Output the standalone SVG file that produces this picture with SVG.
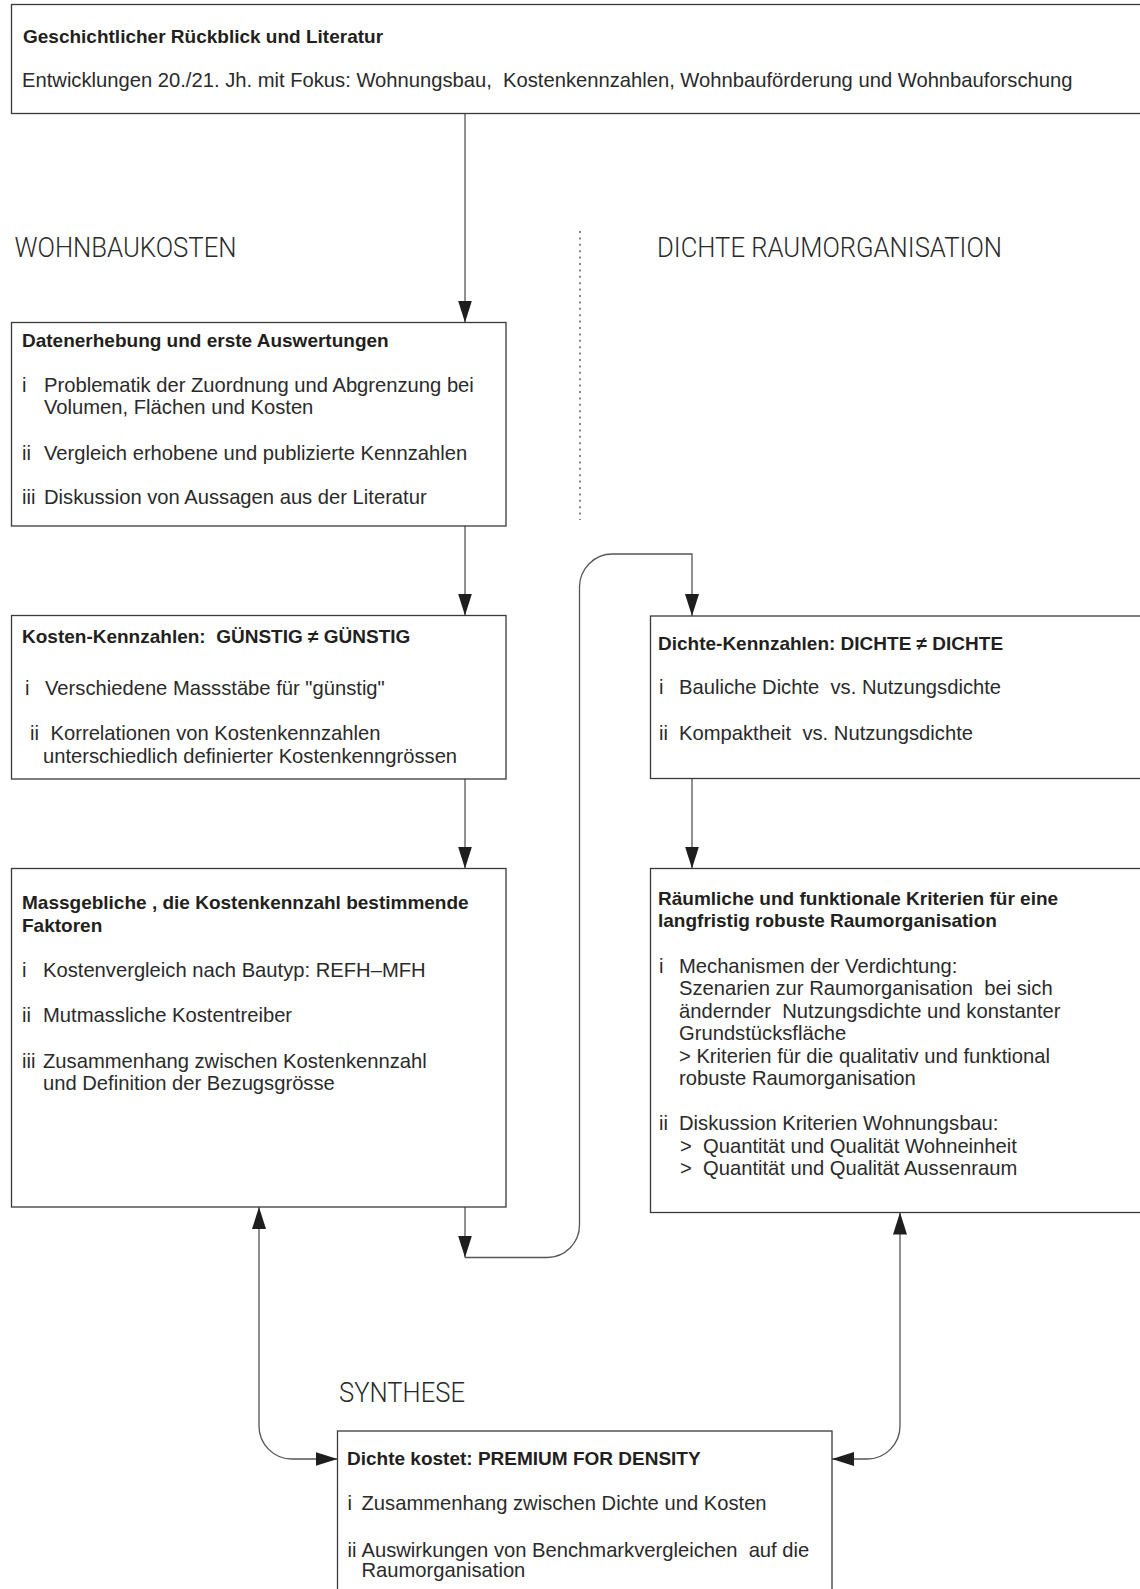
<svg xmlns="http://www.w3.org/2000/svg" width="1140" height="1589" viewBox="0 0 1140 1589">
<style>
.box{fill:#fff;stroke:#3a3a3a;stroke-width:1.3}
.t{font-family:"Liberation Sans",Arial,sans-serif;font-size:20.2px;fill:#2a2a2a}
.b{font-family:"Liberation Sans",Arial,sans-serif;font-size:19px;font-weight:bold;fill:#231f20}
.h{font-family:Roboto,"Liberation Sans",sans-serif;font-weight:300;font-size:27px;fill:#2a2a2a}
.c{fill:none;stroke:#555;stroke-width:1.3}
.dot{fill:none;stroke:#444;stroke-width:1.3;stroke-dasharray:2 4.4}
</style>
<defs>
<marker id="ah" markerUnits="userSpaceOnUse" markerWidth="22" markerHeight="14" refX="22" refY="7" orient="auto-start-reverse" viewBox="0 0 22 14">
<path d="M0,0 L22,7 L0,14 z" fill="#1e1e1e"/>
</marker>
</defs>
<rect width="1140" height="1589" fill="#fff"/>

<g id="headings">
<text class="h" x="14.5" y="257" textLength="222" lengthAdjust="spacingAndGlyphs">WOHNBAUKOSTEN</text>
<text class="h" x="657" y="257" textLength="345" lengthAdjust="spacingAndGlyphs">DICHTE RAUMORGANISATION</text>
<text class="h" x="339" y="1401.5" textLength="126" lengthAdjust="spacingAndGlyphs">SYNTHESE</text>
<path class="dot" d="M580 231 V520"/>
</g>

<g id="connectors">
<path class="c" d="M465 113.5 V322.5" marker-end="url(#ah)"/>
<path class="c" d="M465 526 V615.5" marker-end="url(#ah)"/>
<path class="c" d="M465 779 V868.5" marker-end="url(#ah)"/>
<path class="c" d="M465 1207 V1257.5" marker-end="url(#ah)"/>
<path class="c" d="M465 1257.5 H547 A32.5 32.5 0 0 0 579.5 1225 V587 A33 33 0 0 1 612.5 554 H692 V616" marker-end="url(#ah)"/>
<path class="c" d="M692 778.5 V868.5" marker-end="url(#ah)"/>
<path class="c" d="M259 1207 V1426 A33 33 0 0 0 292 1459 H337.5" marker-start="url(#ah)" marker-end="url(#ah)"/>
<path class="c" d="M900 1212.5 V1426 A33 33 0 0 1 867 1459 H832" marker-start="url(#ah)" marker-end="url(#ah)"/>
</g>

<g id="n-rueckblick">
<rect class="box" x="11.5" y="4.5" width="1140" height="109"/>
<text class="b" x="23" y="42.5">Geschichtlicher Rückblick und Literatur</text>
<text class="t" x="22" y="86.5" xml:space="preserve">Entwicklungen 20./21. Jh. mit Fokus: Wohnungsbau,  Kostenkennzahlen, Wohnbauförderung und Wohnbauforschung</text>
</g>

<g id="n-daten">
<rect class="box" x="11.5" y="322.5" width="494.5" height="203.5"/>
<text class="b" x="22" y="347">Datenerhebung und erste Auswertungen</text>
<text class="t" x="22" y="392">i</text>
<text class="t" x="44" y="392">Problematik der Zuordnung und Abgrenzung bei</text>
<text class="t" x="44" y="413.5">Volumen, Flächen und Kosten</text>
<text class="t" x="22" y="460">ii</text>
<text class="t" x="44" y="460">Vergleich erhobene und publizierte Kennzahlen</text>
<text class="t" x="22" y="504">iii</text>
<text class="t" x="44" y="504">Diskussion von Aussagen aus der Literatur</text>
</g>

<g id="n-kosten-kennzahlen">
<rect class="box" x="11.5" y="615.5" width="494.5" height="163.5"/>
<text class="b" x="22" y="643" xml:space="preserve">Kosten-Kennzahlen:  GÜNSTIG ≠ GÜNSTIG</text>
<text class="t" x="25" y="695">i</text>
<text class="t" x="45" y="695">Verschiedene Massstäbe für "günstig"</text>
<text class="t" x="30" y="740">ii</text>
<text class="t" x="50.5" y="740">Korrelationen von Kostenkennzahlen</text>
<text class="t" x="43" y="763">unterschiedlich definierter Kostenkenngrössen</text>
</g>

<g id="n-faktoren">
<rect class="box" x="11.5" y="868.5" width="494.5" height="338.5"/>
<text class="b" x="22" y="908.5">Massgebliche , die Kostenkennzahl bestimmende</text>
<text class="b" x="22" y="931.5">Faktoren</text>
<text class="t" x="22" y="977">i</text>
<text class="t" x="43" y="977">Kostenvergleich nach Bautyp: REFH–MFH</text>
<text class="t" x="22" y="1022">ii</text>
<text class="t" x="43" y="1022">Mutmassliche Kostentreiber</text>
<text class="t" x="22" y="1067.5">iii</text>
<text class="t" x="43" y="1067.5">Zusammenhang zwischen Kostenkennzahl</text>
<text class="t" x="43" y="1090">und Definition der Bezugsgrösse</text>
</g>

<g id="n-dichte-kennzahlen">
<rect class="box" x="650.5" y="616" width="500" height="162.5"/>
<text class="b" x="658" y="650">Dichte-Kennzahlen: DICHTE ≠ DICHTE</text>
<text class="t" x="659" y="693.5">i</text>
<text class="t" x="679" y="693.5" xml:space="preserve">Bauliche Dichte  vs. Nutzungsdichte</text>
<text class="t" x="659" y="740">ii</text>
<text class="t" x="679" y="740" xml:space="preserve">Kompaktheit  vs. Nutzungsdichte</text>
</g>

<g id="n-kriterien">
<rect class="box" x="650.5" y="868.5" width="500" height="344"/>
<text class="b" x="658" y="905">Räumliche und funktionale Kriterien für eine</text>
<text class="b" x="658" y="927">langfristig robuste Raumorganisation</text>
<text class="t" x="659" y="972.5">i</text>
<text class="t" x="679" y="972.5">Mechanismen der Verdichtung:</text>
<text class="t" x="679" y="995" xml:space="preserve">Szenarien zur Raumorganisation  bei sich</text>
<text class="t" x="679" y="1018" xml:space="preserve">ändernder  Nutzungsdichte und konstanter</text>
<text class="t" x="679" y="1040">Grundstücksfläche</text>
<text class="t" x="679" y="1063">&gt; Kriterien für die qualitativ und funktional</text>
<text class="t" x="679" y="1085">robuste Raumorganisation</text>
<text class="t" x="659" y="1130">ii</text>
<text class="t" x="679" y="1130">Diskussion Kriterien Wohnungsbau:</text>
<text class="t" x="680" y="1152.5" xml:space="preserve">&gt;  Quantität und Qualität Wohneinheit</text>
<text class="t" x="680" y="1175" xml:space="preserve">&gt;  Quantität und Qualität Aussenraum</text>
</g>

<g id="n-synthese">
<rect class="box" x="337.5" y="1431" width="494.5" height="170"/>
<text class="b" x="347" y="1464.5">Dichte kostet: PREMIUM FOR DENSITY</text>
<text class="t" x="347.5" y="1510">i</text>
<text class="t" x="361.5" y="1510">Zusammenhang zwischen Dichte und Kosten</text>
<text class="t" x="347.5" y="1556.5">ii</text>
<text class="t" x="361.5" y="1556.5" xml:space="preserve">Auswirkungen von Benchmarkvergleichen  auf die</text>
<text class="t" x="361.5" y="1577">Raumorganisation</text>
</g>
</svg>
